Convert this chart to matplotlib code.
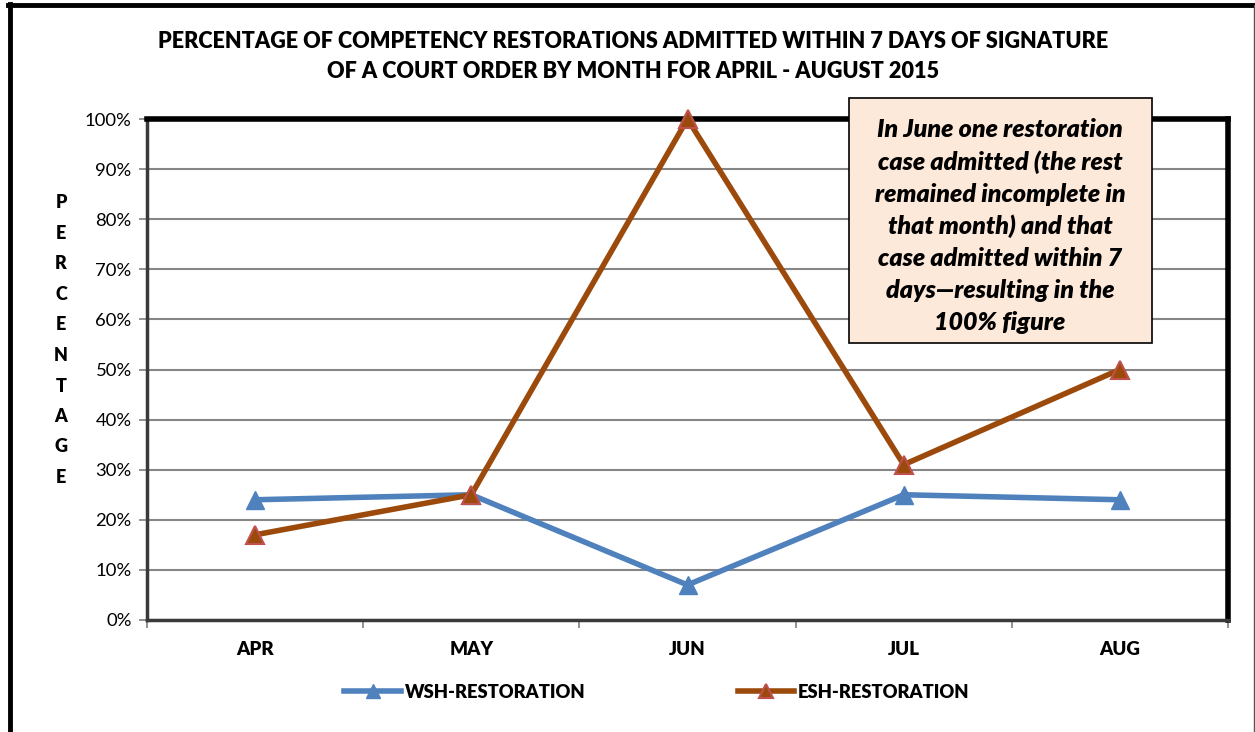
import matplotlib
matplotlib.use("Agg")
import matplotlib.pyplot as plt
from matplotlib.lines import Line2D
from matplotlib.patches import Rectangle
from matplotlib.ticker import FuncFormatter, MultipleLocator

plt.rcParams['font.family'] = ['Lato', 'DejaVu Sans']

months = ["APR", "MAY", "JUN", "JUL", "AUG"]
wsh = [24, 25, 7, 25, 24]
esh = [17, 25, 100, 31, 50]
title_lines = ["PERCENTAGE OF COMPETENCY RESTORATIONS ADMITTED WITHIN 7 DAYS OF SIGNATURE",
               "OF A COURT ORDER BY MONTH FOR APRIL - AUGUST 2015"]
ylabel_text = "PERCENTAGE"
note_text = ("In June one restoration\ncase admitted (the rest\nremained incomplete in\n"
             "that month) and that\ncase admitted within 7\ndays\u2014resulting in the\n100% figure")

W, H = 1255, 732
fig = plt.figure(figsize=(W / 100, H / 100), dpi=100)

def fx(px):
    return px / W

def fy(py):
    return 1 - py / H

# outer frame
fig.add_artist(Line2D([fx(10), fx(10)], [fy(4), 0], color='black', lw=3.5, transform=fig.transFigure))
fig.add_artist(Line2D([fx(8), fx(1254)], [fy(5), fy(5)], color='black', lw=3.5, transform=fig.transFigure))
fig.add_artist(Line2D([fx(1253.5), fx(1253.5)], [fy(5), 0], color='#555555', lw=1.0, transform=fig.transFigure))

ax = fig.add_axes([fx(147), fy(620), fx(1228) - fx(147), fy(119) - fy(620)])
x = list(range(len(months)))

ax.plot(x, wsh, color='#4F81BD', lw=4, marker='^', markersize=13,
        markerfacecolor='#4F81BD', markeredgecolor='#4F81BD', label='WSH-RESTORATION', zorder=3)
ax.plot(x, esh, color='#9C4A0C', lw=4, marker='^', markersize=13,
        markerfacecolor='#9C4A0C', markeredgecolor='#C0504D', markeredgewidth=1.5,
        label='ESH-RESTORATION', zorder=4, clip_on=False)

ax.set_xlim(-0.5, len(months) - 0.5)
ax.set_ylim(0, 100)
ax.yaxis.set_major_locator(MultipleLocator(10))
ax.yaxis.set_major_formatter(FuncFormatter(lambda v, p: f"{int(round(v))}%"))
ax.set_xticks(x)
ax.set_xticklabels(months, fontsize=13.5, fontweight='heavy')
ax.set_xticks([i - 0.5 for i in range(len(months) + 1)], minor=True)
ax.tick_params(axis='x', which='major', length=0, pad=15)
ax.tick_params(axis='x', which='minor', length=6, width=1.2, color='#808080', direction='out')
ax.tick_params(axis='y', which='major', length=6, width=1.2, color='#808080', labelsize=13.3, pad=5)

ax.grid(axis='y', color='#868686', lw=1.5, zorder=0)
ax.set_axisbelow(True)

for s in ['top', 'right']:
    ax.spines[s].set_color('black')
    ax.spines[s].set_linewidth(4)
for s in ['left', 'bottom']:
    ax.spines[s].set_color('#3a3a3a')
    ax.spines[s].set_linewidth(2.5)

# title
fig.text(fx(633), fy(42), title_lines[0], ha='center', va='center', fontsize=15.6, fontweight='heavy')
fig.text(fx(633), fy(72), title_lines[1], ha='center', va='center', fontsize=15.6, fontweight='heavy')

# vertical stacked y label
for i, ch in enumerate(ylabel_text):
    fig.text(fx(61), fy(203 + i * 30.5), ch, ha='center', va='center', fontsize=13, fontweight='heavy')

# annotation box
fig.add_artist(Rectangle((fx(849), fy(343)), fx(1152) - fx(849), fy(98) - fy(343),
                         transform=fig.transFigure, facecolor='#FDE9D9', edgecolor='black', lw=1.2, zorder=5))
fig.text(fx(1000), fy(226), note_text, ha='center', va='center', fontsize=18, fontweight='heavy',
         fontstyle='italic', linespacing=1.47, zorder=6)

leg = fig.legend(loc='center', bbox_to_anchor=(fx(657), fy(692)), ncol=2, frameon=False,
                 prop={'size': 13.2, 'weight': 'heavy'}, handlelength=3.1, handletextpad=0.2,
                 columnspacing=8.3, markerscale=0.75)

fig.savefig("out.png", dpi=100)
